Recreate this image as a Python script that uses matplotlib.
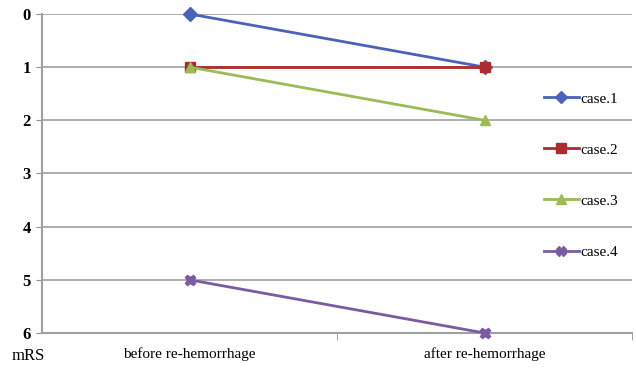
import matplotlib.pyplot as plt
from matplotlib.ticker import FixedLocator

# categorieen en mRS-waardes per casus
stages = ['before re-hemorrhage', 'after re-hemorrhage']
case1 = [0, 1]
case2 = [1, 1]
case3 = [1, 2]
case4 = [5, 6]

labels = ['case.1', 'case.2', 'case.3', 'case.4']
colors = ['#4A62B8', '#AE2B2E', '#9BBB59', '#7A5BA3']
markers = ['D', 's', '^', 'X']

plt.rcParams['font.family'] = ['Liberation Serif', 'DejaVu Serif']

fig = plt.figure(figsize=(6.36, 3.71), dpi=100)
ax = fig.add_axes([0.066, 0.1024, 0.928, 0.86])

x = range(len(stages))
for y, lab, c, m in zip([case1, case2, case3, case4], labels, colors, markers):
    ax.plot(x, y, color=c, lw=2.0, marker=m, ms=7.5 if m != 'D' else 7,
            mec=c, mfc=c, label=lab, clip_on=False, zorder=3)

ax.set_xlim(-0.5, 1.5)
ax.set_ylim(6, 0)
ax.set_yticks(range(7))
ax.set_yticklabels([str(i) for i in range(7)], fontsize=12, fontweight='bold')
ax.set_xticks(list(x))
ax.set_xticklabels(stages, fontsize=11)
ax.tick_params(axis='x', length=0, pad=10)
ax.xaxis.set_minor_locator(FixedLocator([0.5, 1.5]))
ax.tick_params(axis='x', which='minor', length=5, color='#909090')
ax.tick_params(axis='y', length=4, color='#909090', pad=4)

ax.grid(axis='y', color='#A8A8A8', lw=1.3)
ax.set_axisbelow(True)
for s in ['top', 'right']:
    ax.spines[s].set_visible(False)
for s in ['left', 'bottom']:
    ax.spines[s].set_color('#A0A0A0')
    ax.spines[s].set_linewidth(1.5)

fig.text(0.045, 0.03, 'mRS', fontsize=12, ha='center')

ax.legend(loc='upper left', bbox_to_anchor=(0.84, 0.775), frameon=False,
          fontsize=11, labelspacing=2.45, handlelength=2.3, handletextpad=0.1,
          borderaxespad=0, markerscale=0.9)

plt.savefig('out.png', dpi=100)
